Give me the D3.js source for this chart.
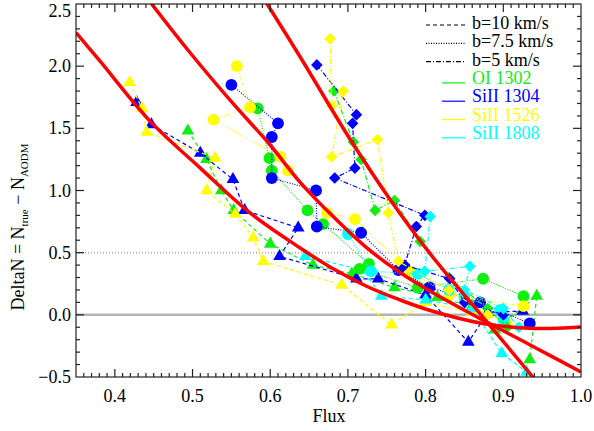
<!DOCTYPE html>
<html><head><meta charset="utf-8">
<script src="https://cdn.jsdelivr.net/npm/d3@7"></script>
<style>body{margin:0;background:#fff}svg{display:block}text{font-family:"Liberation Serif","Times New Roman",serif}</style>
</head><body><svg id="c" width="594" height="431"></svg>
<script>
const xTicks=[0.4,0.5,0.6,0.7,0.8,0.9,1.0];
const yTicks=[-0.5,0.0,0.5,1.0,1.5,2.0,2.5];
const species=["OI 1302","SiII 1304","SiII 1526","SiII 1808"];
const speciesColors=["#11ee11","#0000ff","#ffff00","#00ffff"];
const bLabels=["b=10 km/s","b=7.5 km/s","b=5 km/s"];
// b=10 (triangles)
const b10_OI=[[0.494,1.48],[0.518,1.25],[0.537,1.00],[0.553,0.84],[0.600,0.57],[0.655,0.40],[0.705,0.33],[0.760,0.22],[0.815,0.14],[0.860,0.07],[0.889,-0.12],[0.943,0.15],[0.934,-0.36]];
const b10_SiII1304=[[0.428,1.71],[0.447,1.53],[0.510,1.30],[0.552,1.09],[0.567,0.84],[0.636,0.70],[0.612,0.47],[0.711,0.29],[0.739,0.29],[0.800,0.16],[0.855,-0.22],[0.880,0.02],[0.925,0.03]];
const b10_SiII1526=[[0.419,1.87],[0.435,1.66],[0.441,1.47],[0.529,1.26],[0.518,1.00],[0.555,0.81],[0.578,0.62],[0.591,0.43],[0.692,0.24],[0.756,-0.08],[0.800,0.10],[0.860,0.02],[0.905,-0.05]];
const b10_SiII1808=[[0.645,0.47],[0.720,0.36],[0.743,0.15],[0.800,0.12],[0.860,0.05],[0.898,-0.31],[0.930,-0.46]];
// b=7.5 (circles)
const b75_OI=[[0.584,1.66],[0.599,1.26],[0.602,1.16],[0.648,0.84],[0.668,0.73],[0.727,0.41],[0.715,0.37],[0.790,0.22],[0.874,0.29],[0.926,0.15]];
const b75_SiII1304=[[0.550,1.85],[0.610,1.54],[0.602,1.43],[0.602,1.10],[0.659,1.00],[0.660,0.71],[0.717,0.66],[0.765,0.36],[0.805,0.22],[0.870,0.10],[0.934,-0.07]];
const b75_SiII1526=[[0.557,2.00],[0.574,1.67],[0.527,1.57],[0.613,1.27],[0.623,1.16],[0.673,0.82],[0.709,0.77],[0.780,0.35],[0.830,0.16],[0.926,0.07]];
const b75_SiII1808=[[0.700,0.65],[0.730,0.35],[0.790,0.33],[0.830,0.20],[0.850,0.14],[0.896,0.04],[0.900,-0.04]];
// b=5 (diamonds)
const b5_OI=[[0.682,1.80],[0.707,1.39],[0.717,1.25],[0.735,0.84],[0.760,0.92],[0.793,0.59],[0.830,0.30],[0.880,0.05],[0.905,-0.10]];
const b5_SiII1304=[[0.660,2.01],[0.711,1.61],[0.706,1.54],[0.709,1.18],[0.683,1.10],[0.799,0.80],[0.788,0.71],[0.773,0.40],[0.831,0.29],[0.850,0.10],[0.900,0.00]];
const b5_SiII1526=[[0.677,2.22],[0.679,1.68],[0.694,1.80],[0.679,1.27],[0.738,1.41],[0.752,0.82],[0.765,0.43],[0.830,0.20],[0.880,0.00]];
const b5_SiII1808=[[0.806,0.79],[0.799,0.35],[0.857,0.39],[0.850,0.20],[0.900,0.05],[0.920,-0.10]];
// red fit curves
const fitLow=[[0.35,2.27],[0.381,2.04],[0.445,1.56],[0.51,1.18],[0.574,0.82],[0.638,0.54],[0.681,0.37],[0.724,0.23],[0.767,0.12],[0.806,0.035],[0.870,-0.065],[0.934,-0.108],[1.0,-0.097]];
const fitMid=[[0.44,2.56],[0.494,2.13],[0.552,1.70],[0.598,1.38],[0.638,1.07],[0.681,0.79],[0.724,0.54],[0.767,0.34],[0.806,0.19],[0.870,-0.03],[0.934,-0.24],[1.0,-0.46]];
const fitSteep=[[0.59,2.56],[0.638,2.08],[0.703,1.41],[0.754,0.93],[0.806,0.49],[0.870,0.01],[0.938,-0.50],[0.95,-0.59]];

const groups=[
 {b:0,sym:"tri",dash:"4,3",sets:[b10_OI,b10_SiII1304,b10_SiII1526,b10_SiII1808]},
 {b:1,sym:"circ",dash:"1,1.5",sets:[b75_OI,b75_SiII1304,b75_SiII1526,b75_SiII1808]},
 {b:2,sym:"dia",dash:"5,2,1,2",sets:[b5_OI,b5_SiII1304,b5_SiII1526,b5_SiII1808]}
];

const svg=d3.select("#c");
const L=76,R=581,T=4,B=377;
const x=d3.scaleLinear().domain([0.35,1.0]).range([L,R]);
const y=d3.scaleLinear().domain([-0.5,2.5]).range([B,T]);

svg.append("defs").append("clipPath").attr("id","clip").append("rect").attr("x",L).attr("y",T).attr("width",R-L).attr("height",B-T);
const plot=svg.append("g").attr("clip-path","url(#clip)");

plot.append("line").attr("x1",L).attr("x2",R).attr("y1",y(0.5)).attr("y2",y(0.5)).attr("stroke","#b4b4b4").attr("stroke-width",2).attr("stroke-dasharray","1,2");
plot.append("line").attr("x1",L).attr("x2",R).attr("y1",y(0)).attr("y2",y(0)).attr("stroke","#b4b4b4").attr("stroke-width",2.5);

const line=d3.line().x(d=>x(d[0])).y(d=>y(d[1]));
function symPath(s){
  if(s==="tri") return d3.symbol().type(d3.symbolTriangle).size(70)();
  if(s==="circ") return d3.symbol().type(d3.symbolCircle).size(110)();
  return "M0,-5.8L5.8,0L0,5.8L-5.8,0Z";
}
groups.forEach(g=>{
  g.sets.forEach((pts,i)=>{
    const col=speciesColors[i];
    plot.append("path").attr("d",line(pts)).attr("fill","none").attr("stroke",col).attr("stroke-width",1.2).attr("stroke-dasharray",g.dash);
    plot.selectAll(null).data(pts).enter().append("path")
      .attr("d",symPath(g.sym)).attr("transform",d=>`translate(${x(d[0])},${y(d[1])})`).attr("fill",col);
  });
});

const cl=d3.line().curve(d3.curveCatmullRom).x(d=>x(d[0])).y(d=>y(d[1]));
[fitLow,fitMid,fitSteep].forEach(f=>{
  plot.append("path").attr("d",cl(f)).attr("fill","none").attr("stroke","#ff0000").attr("stroke-width",3.5);
});

// axes frame
const ax=svg.append("g").attr("stroke","#222").attr("stroke-width",1.2);
ax.append("rect").attr("x",L).attr("y",T).attr("width",R-L).attr("height",B-T).attr("fill","none");
const xMinor=d3.range(36,100).map(v=>v/100);
xMinor.forEach(v=>{
  const major=Math.abs(v*10-Math.round(v*10))<1e-6;
  const len=major?8:4;
  ax.append("line").attr("x1",x(v)).attr("x2",x(v)).attr("y1",B).attr("y2",B-len);
  ax.append("line").attr("x1",x(v)).attr("x2",x(v)).attr("y1",T).attr("y2",T+len);
});
const yMinor=d3.range(-4,25).map(v=>v/10);
yMinor.forEach(v=>{
  const major=Math.abs(v*2-Math.round(v*2))<1e-6;
  const len=major?8:4;
  ax.append("line").attr("x1",L).attr("x2",L+len).attr("y1",y(v)).attr("y2",y(v));
  ax.append("line").attr("x1",R).attr("x2",R-len).attr("y1",y(v)).attr("y2",y(v));
});
svg.selectAll(null).data(xTicks).enter().append("text").attr("x",d=>x(d)).attr("y",402).attr("text-anchor","middle").attr("font-size",18).text(d=>d.toFixed(1));
svg.selectAll(null).data(yTicks).enter().append("text").attr("x",71).attr("y",d=>Math.max(y(d)+6,16.5)).attr("text-anchor","end").attr("font-size",18).text(d=>(d<0?"\u2212":"")+Math.abs(d).toFixed(1));
svg.append("text").attr("x",329).attr("y",422).attr("text-anchor","middle").attr("font-size",18).text("Flux");
const yl=svg.append("text").attr("transform","translate(24,227) rotate(-90)").attr("text-anchor","middle").attr("font-size",18);
yl.append("tspan").text("DeltaN = N");
yl.append("tspan").attr("font-size",11).attr("dy",4).text("true");
yl.append("tspan").attr("dy",-4).text(" \u2212 N");
yl.append("tspan").attr("font-size",11).attr("dy",4).text("AODM");

// legend
const lg=svg.append("g");
const dashes=["4,3","1,1.5","5,2,1,2"];
bLabels.forEach((t,i)=>{
  const yy=23+i*18.3;
  lg.append("line").attr("x1",426).attr("x2",465).attr("y1",yy+2).attr("y2",yy+2).attr("stroke","#000").attr("stroke-width",1.2).attr("stroke-dasharray",dashes[i]);
  lg.append("text").attr("x",472).attr("y",yy+6).attr("font-size",18).attr("fill","#000").text(t);
});
species.forEach((t,i)=>{
  const yy=23+(i+3)*18.3;
  lg.append("line").attr("x1",442).attr("x2",465).attr("y1",yy+5).attr("y2",yy+5).attr("stroke",speciesColors[i]).attr("stroke-width",1.2);
  lg.append("text").attr("x",472).attr("y",yy+6).attr("font-size",18).attr("fill",speciesColors[i]).text(t);
});
</script></body></html>
